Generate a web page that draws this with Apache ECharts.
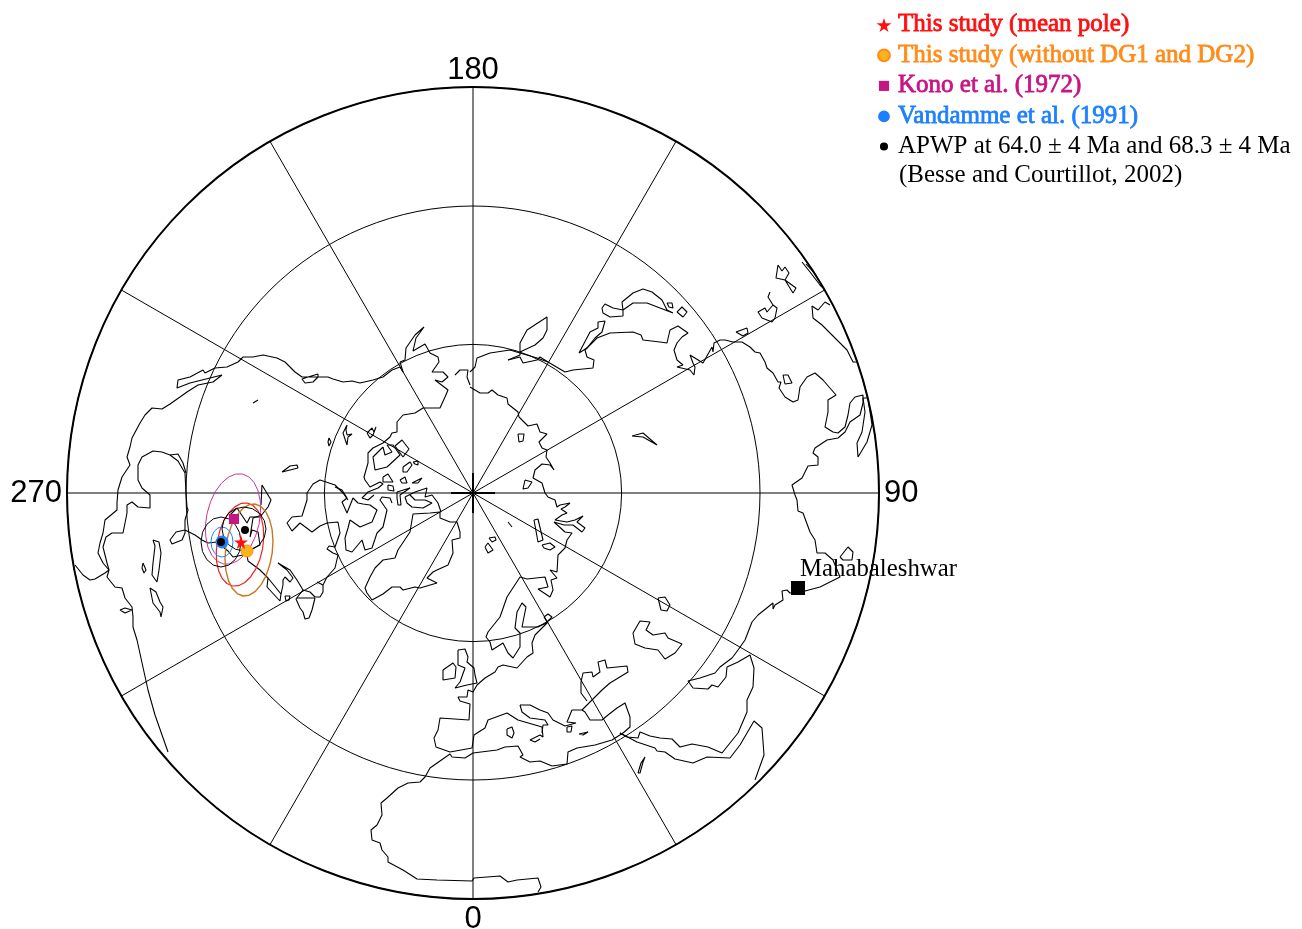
<!DOCTYPE html>
<html><head><meta charset="utf-8">
<style>html,body{margin:0;padding:0;background:#fff}#c{width:1302px;height:929px}</style>
<script src="https://cdn.jsdelivr.net/npm/echarts@6/dist/echarts.min.js"></script>
</head><body><div id="c"></div>
<script>
// Map-plane coordinates: [east-of-pole, south-of-pole], in projected map units.
const angleTicks = [0, 90, 180, 270];
const ringRadii = [148.6, 287, 406];

const poleMean = [[-232,49]];
const poleWithout = [[-226,58]];
const poleKono = [[-239,26]];
const poleVandamme = [[-251,49]];
const poleApwp = [[-252,49],[-228,37]];
const siteMahabaleshwar = [[325,95]];

const ellipseKono = [[-230.5,-19],[-224.1,-16.1],[-218.8,-10.3],[-214.9,-2],[-212.7,8.2],[-212.4,19.5],[-214,31.4],[-217.4,42.9],[-222.2,53.2],[-228.3,61.6],[-235.2,67.7],[-242.5,70.9],[-249.5,71],[-255.9,68.1],[-261.2,62.3],[-265.1,54],[-267.2,43.8],[-267.6,32.5],[-266,20.6],[-262.6,9.1],[-257.8,-1.2],[-251.7,-9.6],[-244.8,-15.7],[-237.6,-18.9],[-230.5,-19]];
const ellipseMean = [[-225.5,10],[-219.9,12.5],[-215.2,17.6],[-211.7,25.1],[-209.7,34.3],[-209.3,44.8],[-210.4,55.6],[-213.1,66.2],[-217.2,75.8],[-222.3,83.7],[-228.2,89.5],[-234.4,92.7],[-240.5,93],[-246.1,90.5],[-250.8,85.4],[-254.3,77.9],[-256.4,68.7],[-256.7,58.2],[-255.6,47.4],[-252.9,36.8],[-248.9,27.2],[-243.7,19.3],[-237.8,13.6],[-231.6,10.3],[-225.5,10]];
const ellipseWithout = [[-218,11],[-212.2,13.4],[-207.2,18.7],[-203.4,26.6],[-200.9,36.6],[-200,48],[-200.8,60],[-203.2,71.8],[-206.9,82.6],[-211.8,91.6],[-217.6,98.3],[-223.8,102.2],[-230,103],[-235.8,100.6],[-240.8,95.3],[-244.6,87.4],[-247.1,77.4],[-248,66],[-247.2,54],[-244.9,42.2],[-241.1,31.4],[-236.2,22.4],[-230.4,15.7],[-224.2,11.8],[-218,11]];
const ellipseVandamme = [[-251,34],[-246.8,35.1],[-243.2,38.4],[-240.8,43.3],[-240,49],[-240.8,54.7],[-243.2,59.6],[-246.8,62.9],[-251,64],[-255.2,62.9],[-258.8,59.6],[-261.2,54.7],[-262,49],[-261.2,43.3],[-258.8,38.4],[-255.2,35.1],[-251,34]];
const ellipseApwpA = [[-252,24],[-244.3,25.9],[-237.9,31.3],[-233.5,39.4],[-232,49],[-233.5,58.6],[-237.9,66.7],[-244.3,72.1],[-252,74],[-259.7,72.1],[-266.1,66.7],[-270.5,58.6],[-272,49],[-270.5,39.4],[-266.1,31.3],[-259.7,25.9],[-252,24]];
const ellipseApwpB = [[-229,14],[-220.6,15.7],[-213.4,20.4],[-208.7,27.6],[-207,36],[-208.7,44.4],[-213.4,51.6],[-220.6,56.3],[-229,58],[-237.4,56.3],[-244.6,51.6],[-249.3,44.4],[-251,36],[-249.3,27.6],[-244.6,20.4],[-237.4,15.7],[-229,14]];

const coastNorthWest = [[-70,-121],[-73,-126],[-81,-123],[-90,-116],[-100,-113],[-113,-110],[-121,-112],[-130,-111],[-140,-114],[-145,-116],[-155,-116],[-155,-119],[-165,-116],[-171,-114],[-168,-110],[-160,-111],[-155,-116],[-165,-116],[-171,-116],[-178,-121],[-188,-131],[-196,-135],[-210,-138],[-220,-136],[-230,-136],[-235,-131],[-246,-126],[-258,-125],[-268,-120],[-270,-123],[-283,-116],[-295,-113],[-296,-105],[-283,-110],[-251,-118],[-260,-111],[-275,-108],[-286,-101],[-293,-96],[-303,-89],[-311,-84],[-321,-85],[-328,-78],[-333,-70],[-341,-55],[-343,-46],[-346,-36],[-343,-28],[-351,-16],[-355,-3],[-356,10],[-356,17],[-368,27],[-370,40],[-373,50],[-375,60],[-370,70],[-364,77],[-368,80],[-378,86],[-383,87],[-390,82],[-398,72]];
const coastWestTail = [[-364,77],[-366,84],[-358,94],[-351,95],[-348,105],[-341,114],[-340,124],[-340,134],[-336,147],[-325,197],[-318,222],[-305,259]];
const coastWestInner = [[-364,77],[-366,70],[-370,54],[-367,44],[-361,40],[-350,40],[-346,20],[-346,12],[-341,9],[-335,14],[-323,15],[-323,2],[-331,-5],[-335,-13],[-335,-28],[-331,-36],[-320,-42],[-311,-41],[-303,-38],[-295,-32],[-288,-20],[-287,0],[-286,14],[-285,17],[-288,27],[-288,40],[-291,47],[-301,51],[-303,47],[-297,39],[-288,37],[-278,42],[-271,47],[-265,50],[-256,49],[-245,58],[-240,64],[-230,62],[-226,62],[-225,68],[-213,77],[-205,85],[-192,101],[-193,108],[-206,94],[-205,85]];
const coastWestHook = [[-192,101],[-193,99],[-190,92],[-190,87],[-188,84],[-183,89],[-180,85],[-186,77],[-195,70],[-183,77],[-176,87],[-170,97]];
const coastPoleGap1 = [[-243,22],[-236,15],[-226,30],[-223,24],[-213,24],[-205,14],[-202,7],[-211,-8],[-212,12]];
const coastPoleGap2 = [[-228,54],[-223,57],[-213,52],[-215,39],[-221,37],[-223,44],[-220,25],[-211,22]];
const coastHudson = [[-303,-38],[-295,-39],[-290,-30],[-287,-20]];
const coastMidWest = [[-125,7],[-130,0],[-138,-8],[-153,-13],[-160,-9],[-166,0],[-166,7],[-171,23],[-181,24],[-186,30],[-181,38],[-173,30],[-161,39],[-153,33],[-146,30],[-135,29],[-133,40],[-138,54],[-144,53],[-146,56],[-140,60],[-135,62],[-138,75],[-146,84],[-150,92],[-150,99],[-153,104],[-158,104],[-163,99],[-170,97],[-177,106],[-173,115],[-170,119],[-168,126],[-164,125],[-161,117],[-158,105]];
const coastMidWestSpur = [[-156,89],[-150,92]];
const coastMidWestBar = [[-176,105],[-158,105]];
const coastInnerA = [[-123,27],[-125,35],[-128,45],[-127,57],[-121,59],[-111,47],[-108,57],[-101,55],[-96,40],[-90,34],[-86,17],[-93,7],[-91,4],[-83,5],[-81,10]];
const coastInnerB = [[-123,27],[-113,34],[-101,29],[-96,17],[-103,12],[-110,11],[-115,10],[-120,5],[-121,7],[-126,20],[-131,9],[-126,5],[-131,-3],[-138,-6]];
const coastGreenland = [[-101,107],[-106,100],[-108,95],[-103,84],[-98,75],[-90,67],[-78,65],[-75,57],[-63,39],[-61,27],[-60,21],[-43,20],[-33,19],[-33,25],[-23,29],[-16,29],[-13,39],[-13,45],[-21,47],[-20,60],[-25,72],[-36,77],[-40,79],[-46,85],[-36,90],[-53,95],[-58,94],[-70,97],[-73,94],[-81,94],[-90,101],[-101,107]];
const coastNorthCentre = [[-73,-131],[-68,-133],[-67,-145],[-58,-158],[-49,-166],[-57,-155],[-60,-142],[-48,-149],[-43,-140],[-35,-136],[-34,-131],[-41,-121],[-30,-121],[-25,-116],[-31,-111],[-38,-113],[-25,-103],[-28,-96],[-33,-85],[-50,-85],[-58,-80],[-70,-78],[-76,-71],[-76,-61],[-81,-60],[-83,-56],[-90,-50],[-100,-45],[-105,-40],[-105,-30],[-109,-16],[-108,-13],[-103,-6],[-93,-11],[-90,-9],[-95,-5],[-105,-1],[-111,5],[-105,7],[-99,2]];
const coastNorthJoin = [[-73,-131],[-70,-121]];
const coastArcticLoop = [[-90,-46],[-100,-36],[-98,-23],[-86,-26],[-73,-38],[-80,-48],[-86,-48],[-81,-41],[-88,-38],[-90,-46]];
const coastNorthEast = [[-18,-118],[-13,-123],[-5,-123],[-6,-116],[-3,-108]];
const coastAsiaMargin = [[-3,-121],[2,-126],[4,-135],[17,-140],[37,-143],[47,-140],[64,-135],[75,-131],[92,-121],[100,-123],[120,-125],[121,-133],[114,-136],[112,-143],[124,-155],[137,-160],[160,-161],[168,-158],[170,-153],[187,-151],[194,-150],[197,-163],[205,-167],[215,-160],[209,-156],[204,-150],[206,-148],[201,-143],[204,-133],[210,-128],[204,-126],[217,-123],[221,-118],[219,-116],[222,-118],[222,-126],[220,-130],[217,-138],[230,-130],[239,-146],[240,-141],[241,-150],[247,-153],[252,-153],[260,-151],[269,-151],[277,-146],[282,-141],[287,-140],[292,-131],[294,-125],[300,-120],[305,-111],[308,-111],[306,-105],[312,-96],[320,-91],[325,-93],[327,-106],[334,-116],[342,-120],[350,-113],[363,-98],[355,-93],[355,-81],[352,-66],[360,-61],[365,-60],[372,-66],[375,-78],[377,-90],[382,-96],[390,-98],[390,-90],[387,-78],[377,-71],[372,-61],[365,-55],[354,-53],[342,-45],[340,-40],[345,-36],[345,-28],[335,-27],[329,-15],[319,-8],[322,2],[324,7],[325,18],[330,20],[337,39],[342,47],[344,60],[352,60],[360,67],[367,84],[347,94],[332,98],[317,100],[314,97],[309,98],[310,107],[302,112],[300,116],[300,110],[285,122],[279,129],[272,147],[265,157],[259,165],[247,174],[242,180],[227,185],[215,188],[220,195],[235,196],[239,192],[245,194],[253,184],[254,174],[265,169],[277,162],[281,175],[280,194],[274,207],[274,219],[265,240],[249,260],[235,254],[219,251],[207,254],[199,246],[187,245],[177,243],[167,239],[165,245],[154,244],[147,240]];
const coastArabia = [[147,240],[164,249],[182,255],[184,258],[192,259],[202,266],[220,270],[234,264],[257,265],[267,252],[281,228],[289,235],[291,262],[282,287]];
const coastSiberia = [[-3,-106],[7,-100],[15,-100],[19,-103],[25,-98],[34,-95],[35,-89],[45,-81],[46,-76],[55,-67],[64,-69],[67,-61],[74,-59],[66,-51],[69,-45],[74,-43],[73,-36],[77,-30],[81,-23],[77,-28],[69,-29],[62,-23],[60,-15],[69,-10],[72,0],[75,4],[82,7],[84,14],[87,12],[97,10],[92,14],[88,16],[94,20],[89,22],[82,27],[94,29],[102,27],[110,23],[104,29],[112,35],[109,39],[100,32],[91,32],[81,29],[92,39],[99,40],[94,47],[92,55],[85,62],[84,79],[77,77],[84,85],[78,87],[80,97],[77,104],[65,96],[75,94],[72,84],[54,86],[47,84],[34,104],[27,124],[15,139],[13,144],[17,149],[19,157],[30,150],[35,160],[40,165],[47,154],[47,140],[42,135],[44,119],[49,110],[53,114],[49,134],[65,134],[75,129],[62,142],[59,150],[60,160],[54,164],[44,175],[30,172],[25,174],[22,179],[12,185],[4,192],[0,199],[-5,197],[-6,204],[-15,204],[-13,208],[-3,211],[-4,227],[-33,225],[-35,237],[-39,245],[-37,254],[-23,259],[-1,255],[1,242],[12,235],[15,227],[34,220],[45,227],[69,234],[70,244],[67,242],[57,247],[62,249],[67,246]];
const coastBalkan = [[47,212],[57,212],[67,217],[75,220],[80,227],[92,233],[103,230],[94,229],[99,217],[109,217],[112,219],[117,227],[129,227],[135,222],[144,215],[152,210],[157,224],[157,234],[150,240],[139,247],[122,252],[104,255],[95,259],[94,271],[79,273],[67,268],[57,269],[47,264],[50,262],[45,253],[32,254],[24,257],[0,260],[-8,265],[-21,264],[-23,261],[-43,275],[-48,284],[-53,289],[-65,290],[-75,295],[-86,305],[-92,310],[-91,322],[-96,332],[-102,337],[-101,347],[-93,350],[-91,357],[-85,364],[-85,369],[-70,377],[-56,386],[-36,387],[-1,388],[1,385],[27,383],[35,389],[44,387],[65,385],[68,394],[65,399]];
const coastItaly = [[47,212],[49,219],[57,225],[72,227],[75,232],[70,232],[69,240]];
const coastTurkey = [[109,217],[119,207],[129,197],[137,190],[155,179],[154,173],[134,175],[132,167],[125,169],[127,179],[120,184],[119,179],[110,180],[108,189],[108,200],[114,208]];
const coastArcticEast = [[35,-133],[47,-138],[47,-150],[54,-163],[74,-176],[74,-163],[70,-155],[62,-148],[47,-141]];
const coastArcticSpit = [[35,-133],[47,-136],[50,-130],[64,-133],[67,-136],[75,-131]];
const coastKolyma = [[129,-185],[132,-189],[140,-185],[150,-183],[149,-191],[160,-200],[170,-204],[179,-201],[189,-193],[194,-183],[200,-180],[199,-178],[187,-185],[174,-190],[160,-190],[150,-183],[150,-177],[137,-176],[130,-180],[129,-185]];
const coastEastEdge = [[339,-187],[340,-175],[349,-168],[359,-158],[374,-143],[380,-131],[384,-131]];
const coastEastEdgeTop = [[339,-187],[345,-183],[352,-191],[357,-188]];
const coastRimTop = [[329,-231],[337,-221],[347,-208],[352,-203],[343,-218],[333,-229]];

const islandBritain = [[-15,157],[-8,156],[-5,164],[-6,169],[1,175],[2,182],[4,190],[-6,192],[-18,195],[-13,189],[-8,175],[-15,172],[-15,157]];
const islandIreland = [[-30,177],[-20,170],[-17,174],[-18,185],[-30,187],[-30,182],[-30,177]];
const islandsSouth = [
 [[34,236],[39,234],[41,240],[39,245],[34,242],[34,236]],
 [[94,234],[99,233],[98,239],[94,239],[94,234]],
 [[106,241],[115,239],[110,242],[106,241]],
 [[165,280],[168,270],[172,264],[170,269],[167,280],[165,280]],
 [[71,124],[75,121],[79,124],[74,129],[71,124]],
 [[61,27],[65,26],[70,47],[65,49],[61,27]],
 [[69,52],[77,50],[82,54],[77,57],[71,55],[69,52]],
 [[35,29],[37,29],[39,34],[35,29]],
 [[16,45],[22,44],[23,47],[19,49],[16,45]],
 [[12,54],[15,50],[20,57],[15,60],[12,54]],
 [[160,140],[167,128],[177,129],[173,137],[180,142],[192,140],[195,145],[209,151],[202,160],[192,166],[185,157],[172,155],[162,151],[160,140]],
 [[185,105],[192,104],[197,112],[194,118],[188,117],[185,105]],
 [[367,64],[375,54],[380,59],[379,67],[370,67],[367,64]]
];
const islandsNorth = [
 [[106,-140],[117,-161],[125,-165],[125,-171],[132,-172],[129,-161],[122,-155],[114,-145],[106,-140]],
 [[194,-190],[199,-190],[200,-185],[196,-186],[194,-190]],
 [[204,-181],[209,-186],[214,-181],[210,-176],[204,-181]],
 [[159,-57],[170,-60],[184,-48],[170,-56],[159,-57]],
 [[45,-59],[51,-59],[50,-52],[46,-51],[45,-59]],
 [[52,-13],[59,-11],[55,-5],[50,-4],[52,-13]],
 [[305,-228],[303,-215],[312,-213],[316,-220],[312,-226],[309,-222],[305,-228]],
 [[312,-213],[314,-211],[323,-205],[320,-200],[312,-213]],
 [[297,-201],[295,-196],[300,-188],[304,-185],[302,-175],[299,-171],[289,-175],[285,-181],[292,-185],[294,-181],[300,-188]],
 [[263,-161],[274,-165],[275,-160],[270,-157],[263,-161]],
 [[310,-118],[315,-118],[319,-110],[312,-109],[310,-118]],
 [[385,-36],[384,-50],[389,-61],[392,-81],[390,-95],[395,-95],[399,-68],[394,-51],[385,-36]]
];
const islandsWest = [
 [[-320,47],[-314,49],[-312,60],[-314,77],[-316,89],[-321,82],[-320,70],[-318,53],[-320,47]],
 [[-330,70],[-327,77],[-329,80],[-331,75],[-330,70]],
 [[-323,95],[-317,99],[-313,109],[-310,114],[-312,124],[-313,119],[-320,110],[-323,95]],
 [[-353,117],[-348,115],[-346,114],[-341,117],[-348,120],[-353,117]],
 [[-220,-90],[-215,-93]],
 [[-191,-21],[-183,-27],[-176,-28],[-175,-25],[-183,-23],[-191,-21]],
 [[-144,-55],[-142,-51],[-144,-47],[-145,-51],[-144,-55]],
 [[-126,-68],[-130,-60],[-126,-48],[-125,-56],[-121,-59],[-126,-58],[-127,-63],[-126,-68]],
 [[-106,-60],[-101,-65],[-99,-61],[-97,-66],[-100,-58],[-103,-55],[-106,-60]],
 [[-78,-47],[-71,-53],[-64,-44],[-70,-36],[-78,-47]],
 [[-70,-26],[-63,-31],[-61,-28],[-66,-21],[-70,-21],[-70,-26]],
 [[-60,-31],[-55,-32],[-55,-28],[-58,-29],[-60,-31]],
 [[-73,-13],[-68,-16],[-66,-10],[-71,-10],[-73,-13]],
 [[-61,-10],[-51,-15],[-55,-10],[-61,-10]],
 [[-90,-16],[-85,-19],[-80,-11],[-90,-11],[-90,-16]],
 [[-85,-8],[-80,-7],[-79,-2],[-85,-3],[-85,-8]],
 [[-76,-1],[-63,-5],[-73,2],[-72,12],[-75,12],[-76,5],[-76,-1]],
 [[-68,4],[-58,-1],[-46,-5],[-48,4],[-41,2],[-35,10],[-32,19]],
 [[-68,4],[-66,10],[-61,14],[-50,15],[-41,10],[-48,7],[-58,7],[-63,2]],
 [[-188,103],[-183,103],[-184,107],[-187,108],[-188,103]]
];
const poleCrossH = [[-22,0],[22,0]];
const poleCrossV = [[0,-20],[0,20]];

const toPolar = p => {
  const deg = Math.atan2(p[0], p[1]) * 180 / Math.PI;
  return [Math.hypot(p[0], p[1]), (deg + 360) % 360];
};
const lineSeries = (pts, color, width) => ({
  type:'line', coordinateSystem:'polar', data:pts.map(toPolar), showSymbol:false, symbol:'none',
  silent:true, clip:false, lineStyle:{color:color||'#000', width:width||1.1}, z:3
});
const coastLines = [coastNorthWest,coastWestTail,coastWestInner,coastWestHook,coastPoleGap1,coastPoleGap2,coastHudson,coastMidWest,coastMidWestSpur,coastMidWestBar,coastInnerA,coastInnerB,coastGreenland,coastNorthCentre,coastNorthJoin,coastArcticLoop,coastNorthEast,coastAsiaMargin,coastArabia,coastSiberia,coastBalkan,coastItaly,coastTurkey,coastArcticEast,coastArcticSpit,coastKolyma,coastEastEdge,coastEastEdgeTop,coastRimTop,islandBritain,islandIreland,...islandsSouth,...islandsNorth,...islandsWest];
const STAR='path://M50,0 L61,35 L98,35 L68,57 L79,91 L50,70 L21,91 L32,57 L2,35 L39,35 Z';
const pointSeries = (name,pts,symbol,size,color,border,z) => ({
  type:'scatter', coordinateSystem:'polar', name, data:pts.map(toPolar), symbol, symbolSize:size, silent:true, clip:false,
  itemStyle:{color,borderColor:border||color,borderWidth:border?1:0,opacity:1}, z
});
const names = ['This study (mean pole)','This study (without DG1 and DG2)','Kono et al. (1972)','Vandamme et al. (1991)','APWP at 64.0 ± 4 Ma and 68.3 ± 4 Ma'];
const DOT='path://M0 0L0 0M100 100L100 100M50 21A29 29 0 1 1 49.9 21Z';
const SQUARE='path://M0 0L0 0M100 100L100 100M14 14H86V86H14Z';
const BALL='path://M0 0L0 0M100 100L100 100M50 8A42 42 0 1 1 49.9 8Z';

const chart = echarts.init(document.getElementById('c'),null,{renderer:'canvas',width:1302,height:929});
chart.setOption({
  animation:false, backgroundColor:'#fff',
  polar:{center:[473,493],radius:406},
  angleAxis:{type:'value',min:0,max:360,interval:30,startAngle:270,clockwise:false,
    axisLine:{lineStyle:{color:'#000',width:2}},axisTick:{show:false},
    splitLine:{show:true,lineStyle:{color:'#000',width:1}},
    axisLabel:{show:true,margin:5,color:'#000',fontFamily:'Liberation Sans',fontSize:31,
      formatter:v=>v===180?'{t|180}':(angleTicks.includes(v)?String(v):''),
      rich:{t:{fontFamily:'Liberation Sans',fontSize:31,color:'#000',lineHeight:23}}}},
  radiusAxis:{type:'value',min:0,max:406,axisLine:{show:false},axisLabel:{show:false},
    axisTick:{show:false,customValues:ringRadii},
    splitLine:{show:true,lineStyle:{color:'#000',width:1}}},
  legend:{show:true,orient:'vertical',left:871,top:7,itemWidth:18,itemHeight:14,itemGap:4.7,selectedMode:false,
    textStyle:{fontFamily:'Liberation Serif',fontSize:25,lineHeight:24.3},
    data:[
      {name:names[0],icon:STAR,textStyle:{color:'#ff0f0f',textBorderColor:'#ff0f0f',textBorderWidth:0.8}},
      {name:names[1],icon:BALL,textStyle:{color:'#ff8c1a',textBorderColor:'#ff8c1a',textBorderWidth:0.8}},
      {name:names[2],icon:SQUARE,textStyle:{color:'#c71585',textBorderColor:'#c71585',textBorderWidth:0.8}},
      {name:names[3],icon:BALL,textStyle:{color:'#1e80ff',textBorderColor:'#1e80ff',textBorderWidth:0.8}},
      {name:names[4],icon:DOT,textStyle:{color:'#000'}}
    ]},
  graphic:[{type:'text',left:899,top:163,style:{text:'(Besse and Courtillot, 2002)',font:'25px "Liberation Serif"',fill:'#000'}}],
  series:[
    ...coastLines.map(c=>lineSeries(c)),
    lineSeries(poleCrossH,'#000',2),lineSeries(poleCrossV,'#000',2),
    lineSeries(ellipseKono,'#c9359a',1),
    lineSeries(ellipseMean,'#f02020',1.2),
    lineSeries(ellipseWithout,'#c87820',1.4),
    lineSeries(ellipseVandamme,'#1e80ff',1),
    lineSeries(ellipseApwpA,'#000',1),
    lineSeries(ellipseApwpB,'#000',1),
    pointSeries(names[3],poleVandamme,'circle',13,'#1e80ff',null,6),
    pointSeries(names[2],poleKono,'rect',10,'#c71585',null,6),
    pointSeries(names[1],poleWithout,'circle',12,'#ffb31a','#ff8c1a',7),
    pointSeries(names[4],poleApwp,'circle',8,'#000',null,8),
    pointSeries(names[0],poleMean,STAR,14,'#ff0f0f',null,9),
    {type:'scatter',coordinateSystem:'polar',name:'Mahabaleshwar',data:siteMahabaleshwar.map(toPolar),symbol:'rect',symbolSize:14,silent:true,clip:false,z:6,
     itemStyle:{color:'#000',opacity:1},
     label:{show:true,position:'right',distance:0,offset:[-5,-19],formatter:'Mahabaleshwar',fontFamily:'Liberation Serif',fontSize:24.8,color:'#000'}}
  ]
});
</script></body></html>
